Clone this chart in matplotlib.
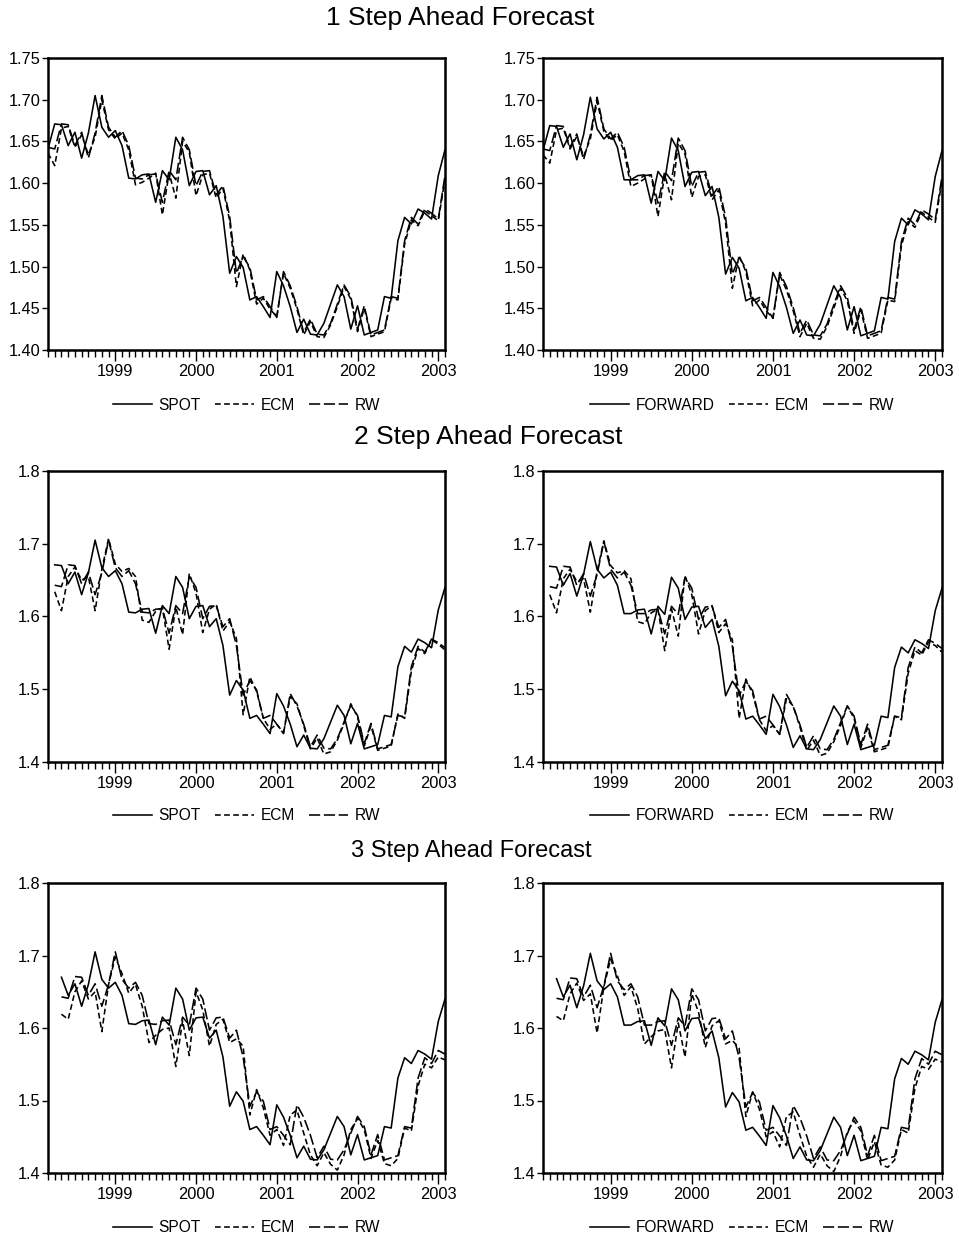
import numpy as np
import matplotlib
matplotlib.use("Agg")
import matplotlib.pyplot as plt

plt.rcParams['font.family'] = ['Liberation Sans', 'DejaVu Sans']

# ---------------- data (monthly, 1998M03 .. 2003M02) ----------------
START_YEAR, START_MONTH, N_OBS = 1998, 3, 60

SPOT = [1.641, 1.671, 1.670, 1.645, 1.661, 1.630, 1.660, 1.705, 1.667, 1.655,
        1.663, 1.645, 1.606, 1.605, 1.610, 1.611, 1.577, 1.615, 1.604, 1.655,
        1.640, 1.597, 1.614, 1.615, 1.586, 1.597, 1.560, 1.492, 1.512, 1.499,
        1.460, 1.464, 1.452, 1.439, 1.494, 1.477, 1.452, 1.421, 1.437, 1.419,
        1.418, 1.432, 1.455, 1.478, 1.464, 1.425, 1.453, 1.418, 1.421, 1.424,
        1.464, 1.462, 1.531, 1.559, 1.551, 1.569, 1.564, 1.557, 1.609, 1.640]

RW1 = [1.643, 1.641, 1.671, 1.670, 1.645, 1.661, 1.630, 1.660, 1.705, 1.667,
       1.655, 1.663, 1.645, 1.606, 1.605, 1.610, 1.611, 1.577, 1.615, 1.604,
       1.655, 1.640, 1.597, 1.614, 1.615, 1.586, 1.597, 1.560, 1.492, 1.512,
       1.499, 1.460, 1.464, 1.452, 1.439, 1.494, 1.477, 1.452, 1.421, 1.437,
       1.419, 1.418, 1.432, 1.455, 1.478, 1.464, 1.425, 1.453, 1.418, 1.421,
       1.424, 1.464, 1.462, 1.531, 1.559, 1.551, 1.569, 1.564, 1.557, 1.609]

ECM1 = [1.636, 1.621, 1.666, 1.668, 1.643, 1.658, 1.634, 1.655, 1.700, 1.664,
        1.653, 1.660, 1.640, 1.598, 1.601, 1.606, 1.612, 1.562, 1.612, 1.582,
        1.650, 1.637, 1.585, 1.610, 1.612, 1.582, 1.594, 1.555, 1.476, 1.515,
        1.496, 1.455, 1.462, 1.449, 1.440, 1.492, 1.474, 1.449, 1.418, 1.434,
        1.416, 1.415, 1.430, 1.452, 1.476, 1.461, 1.422, 1.450, 1.416, 1.419,
        1.422, 1.462, 1.460, 1.527, 1.556, 1.549, 1.567, 1.561, 1.555, 1.605]

RW2 = [1.643, 1.641, 1.671, 1.670, 1.645, 1.661, 1.630, 1.660, 1.705, 1.667,
       1.655, 1.663, 1.645, 1.606, 1.605, 1.610, 1.611, 1.577, 1.615, 1.604,
       1.655, 1.640, 1.597, 1.614, 1.615, 1.586, 1.597, 1.560, 1.492, 1.512,
       1.499, 1.460, 1.464, 1.452, 1.439, 1.494, 1.477, 1.452, 1.421, 1.437,
       1.419, 1.418, 1.432, 1.455, 1.478, 1.464, 1.425, 1.453, 1.418, 1.421,
       1.424, 1.464, 1.462, 1.531, 1.559, 1.551, 1.569, 1.564, 1.557]

ECM2 = [1.634, 1.608, 1.655, 1.668, 1.650, 1.655, 1.608, 1.665, 1.707, 1.672,
        1.662, 1.666, 1.655, 1.595, 1.592, 1.607, 1.612, 1.555, 1.613, 1.575,
        1.659, 1.632, 1.578, 1.610, 1.617, 1.580, 1.593, 1.570, 1.465, 1.517,
        1.497, 1.460, 1.445, 1.452, 1.440, 1.490, 1.480, 1.450, 1.418, 1.433,
        1.411, 1.414, 1.430, 1.453, 1.480, 1.462, 1.422, 1.450, 1.416, 1.419,
        1.422, 1.466, 1.460, 1.525, 1.556, 1.549, 1.568, 1.562, 1.554]

RW3 = [1.643, 1.641, 1.671, 1.670, 1.645, 1.661, 1.630, 1.660, 1.705, 1.667,
       1.655, 1.663, 1.645, 1.606, 1.605, 1.610, 1.611, 1.577, 1.615, 1.604,
       1.655, 1.640, 1.597, 1.614, 1.615, 1.586, 1.597, 1.560, 1.492, 1.512,
       1.499, 1.460, 1.464, 1.452, 1.439, 1.494, 1.477, 1.452, 1.421, 1.437,
       1.419, 1.418, 1.432, 1.455, 1.478, 1.464, 1.425, 1.453, 1.418, 1.421,
       1.424, 1.464, 1.462, 1.531, 1.559, 1.551, 1.569, 1.564]

ECM3 = [1.619, 1.612, 1.650, 1.665, 1.640, 1.650, 1.595, 1.660, 1.698, 1.675,
        1.648, 1.660, 1.630, 1.580, 1.590, 1.598, 1.600, 1.547, 1.610, 1.562,
        1.650, 1.625, 1.575, 1.605, 1.612, 1.580, 1.585, 1.575, 1.480, 1.515,
        1.490, 1.452, 1.460, 1.438, 1.480, 1.487, 1.455, 1.425, 1.410, 1.428,
        1.412, 1.404, 1.425, 1.460, 1.475, 1.460, 1.420, 1.445, 1.413, 1.410,
        1.420, 1.462, 1.458, 1.520, 1.550, 1.545, 1.560, 1.556]

FORWARD = [1.639, 1.669, 1.668, 1.643, 1.659, 1.628, 1.658, 1.703, 1.665, 1.653,
           1.661, 1.643, 1.604, 1.604, 1.609, 1.610, 1.576, 1.614, 1.603, 1.654,
           1.639, 1.596, 1.613, 1.614, 1.585, 1.596, 1.559, 1.491, 1.511, 1.498,
           1.459, 1.463, 1.451, 1.438, 1.493, 1.476, 1.451, 1.420, 1.436, 1.418,
           1.417, 1.431, 1.454, 1.477, 1.463, 1.424, 1.452, 1.417, 1.420, 1.423,
           1.463, 1.461, 1.530, 1.558, 1.550, 1.568, 1.563, 1.556, 1.608, 1.639]

RW_F1 = [1.641, 1.639, 1.669, 1.668, 1.643, 1.659, 1.628, 1.658, 1.703, 1.665,
         1.653, 1.661, 1.643, 1.604, 1.604, 1.609, 1.610, 1.576, 1.614, 1.603,
         1.654, 1.639, 1.596, 1.613, 1.614, 1.585, 1.596, 1.559, 1.491, 1.511,
         1.498, 1.459, 1.463, 1.451, 1.438, 1.493, 1.476, 1.451, 1.420, 1.436,
         1.418, 1.417, 1.431, 1.454, 1.477, 1.463, 1.424, 1.452, 1.417, 1.420,
         1.423, 1.463, 1.461, 1.530, 1.558, 1.550, 1.568, 1.563, 1.556, 1.608]

ECM_F1 = [1.634, 1.624, 1.664, 1.666, 1.641, 1.656, 1.632, 1.653, 1.698, 1.662,
          1.651, 1.658, 1.638, 1.596, 1.600, 1.605, 1.610, 1.560, 1.610, 1.580,
          1.648, 1.635, 1.583, 1.608, 1.610, 1.580, 1.592, 1.552, 1.474, 1.513,
          1.494, 1.453, 1.460, 1.447, 1.438, 1.490, 1.472, 1.447, 1.416, 1.432,
          1.414, 1.413, 1.428, 1.450, 1.474, 1.459, 1.420, 1.448, 1.414, 1.417,
          1.420, 1.460, 1.458, 1.525, 1.554, 1.547, 1.565, 1.559, 1.553, 1.603]

RW_F2 = [1.641, 1.639, 1.669, 1.668, 1.643, 1.659, 1.628, 1.658, 1.703, 1.665,
         1.653, 1.661, 1.643, 1.604, 1.604, 1.609, 1.610, 1.576, 1.614, 1.603,
         1.654, 1.639, 1.596, 1.613, 1.614, 1.585, 1.596, 1.559, 1.491, 1.511,
         1.498, 1.459, 1.463, 1.451, 1.438, 1.493, 1.476, 1.451, 1.420, 1.436,
         1.418, 1.417, 1.431, 1.454, 1.477, 1.463, 1.424, 1.452, 1.417, 1.420,
         1.423, 1.463, 1.461, 1.530, 1.558, 1.550, 1.568, 1.563, 1.556]

ECM_F2 = [1.630, 1.605, 1.652, 1.665, 1.648, 1.652, 1.606, 1.662, 1.704, 1.670,
          1.660, 1.663, 1.652, 1.593, 1.590, 1.605, 1.610, 1.553, 1.610, 1.573,
          1.656, 1.630, 1.576, 1.608, 1.615, 1.578, 1.590, 1.568, 1.460, 1.514,
          1.494, 1.458, 1.443, 1.450, 1.438, 1.487, 1.477, 1.448, 1.416, 1.430,
          1.409, 1.412, 1.428, 1.450, 1.477, 1.460, 1.420, 1.447, 1.414, 1.417,
          1.420, 1.463, 1.458, 1.522, 1.553, 1.547, 1.565, 1.560, 1.551]

RW_F3 = [1.641, 1.639, 1.669, 1.668, 1.643, 1.659, 1.628, 1.658, 1.703, 1.665,
         1.653, 1.661, 1.643, 1.604, 1.604, 1.609, 1.610, 1.576, 1.614, 1.603,
         1.654, 1.639, 1.596, 1.613, 1.614, 1.585, 1.596, 1.559, 1.491, 1.511,
         1.498, 1.459, 1.463, 1.451, 1.438, 1.493, 1.476, 1.451, 1.420, 1.436,
         1.418, 1.417, 1.431, 1.454, 1.477, 1.463, 1.424, 1.452, 1.417, 1.420,
         1.423, 1.463, 1.461, 1.530, 1.558, 1.550, 1.568, 1.563]

ECM_F3 = [1.616, 1.610, 1.647, 1.662, 1.638, 1.647, 1.593, 1.657, 1.695, 1.672,
          1.645, 1.657, 1.627, 1.578, 1.588, 1.596, 1.598, 1.545, 1.607, 1.560,
          1.647, 1.622, 1.573, 1.603, 1.610, 1.578, 1.583, 1.572, 1.478, 1.512,
          1.488, 1.450, 1.457, 1.436, 1.478, 1.484, 1.452, 1.423, 1.408, 1.426,
          1.410, 1.402, 1.423, 1.457, 1.472, 1.458, 1.418, 1.443, 1.411, 1.408,
          1.418, 1.460, 1.455, 1.517, 1.547, 1.543, 1.557, 1.553]

ROW_TITLES = ["1 Step Ahead Forecast", "2 Step Ahead Forecast", "3 Step Ahead Forecast"]
YEAR_TICKS = [1999, 2000, 2001, 2002, 2003]
Y_TICKS_1 = [1.40, 1.45, 1.50, 1.55, 1.60, 1.65, 1.70, 1.75]
Y_TICKS_23 = [1.4, 1.5, 1.6, 1.7, 1.8]

# ---------------- layout ----------------
W, H = 959, 1241
fig = plt.figure(figsize=(W / 100, H / 100), dpi=100)

X = START_YEAR + (START_MONTH - 1) / 12 + np.arange(N_OBS) / 12.0

def rect(x0, y0, x1, y1):
    return [x0 / W, 1 - y1 / H, (x1 - x0) / W, (y1 - y0) / H]

rows = [(58, 350), (471, 762), (883, 1173)]
cols = [(48, 445), (543, 942)]
legend_y = [405, 816, 1228]
title_pos = [(460, 18, 19), (488, 437, 19), (471, 851, 17)]

panels = [
    [("SPOT", SPOT, ECM1, RW1), ("FORWARD", FORWARD, ECM_F1, RW_F1)],
    [("SPOT", SPOT[1:], ECM2, RW2), ("FORWARD", FORWARD[1:], ECM_F2, RW_F2)],
    [("SPOT", SPOT[2:], ECM3, RW3), ("FORWARD", FORWARD[2:], ECM_F3, RW_F3)],
]

LW = 1.15
ECM_DASH = (3.6, 2.1)
RW_DASH = (7.0, 2.3)

for r, (y0, y1) in enumerate(rows):
    for c, (x0, x1) in enumerate(cols):
        name, base, ecm, rw = panels[r][c]
        ax = fig.add_axes(rect(x0, y0, x1, y1))
        lb, = ax.plot(X[-len(base):], base, color='black', lw=LW)
        le, = ax.plot(X[-len(ecm):], ecm, color='black', lw=LW, dashes=ECM_DASH)
        lr, = ax.plot(X[-len(rw):], rw, color='black', lw=LW, dashes=RW_DASH)
        ax.set_xlim(X[0], X[-1])
        if r == 0:
            ax.set_ylim(1.40, 1.75)
            ax.set_yticks(Y_TICKS_1)
            ax.set_yticklabels([f"{v:.2f}" for v in Y_TICKS_1])
        else:
            ax.set_ylim(1.4, 1.8)
            ax.set_yticks(Y_TICKS_23)
            ax.set_yticklabels([f"{v:.1f}" for v in Y_TICKS_23])
        ax.set_xticks(YEAR_TICKS)
        ax.set_xticklabels([str(y) for y in YEAR_TICKS])
        ax.set_xticks(X, minor=True)
        ax.tick_params(axis='x', which='major', length=8, width=1.0, pad=2,
                       labelsize=11.8, direction='out')
        ax.tick_params(axis='x', which='minor', length=5, width=1.0, direction='out')
        ax.tick_params(axis='y', which='major', length=4, width=1.0, pad=1.5,
                       labelsize=11.8, direction='out')
        for s in ax.spines.values():
            s.set_linewidth(1.8)
        cx = (x0 + x1) / 2
        fig.legend([lb, le, lr], [name, "ECM", "RW"], loc='center',
                   bbox_to_anchor=(cx / W, 1 - legend_y[r] / H), ncol=3,
                   frameon=False, fontsize=11.2, handlelength=2.5,
                   handletextpad=0.45, columnspacing=0.9, borderaxespad=0,
                   borderpad=0)

for (tx, ty, fs), t in zip(title_pos, ROW_TITLES):
    fig.text(tx / W, 1 - ty / H, t, ha='center', va='center', fontsize=fs)

fig.savefig("out.png", dpi=100)
